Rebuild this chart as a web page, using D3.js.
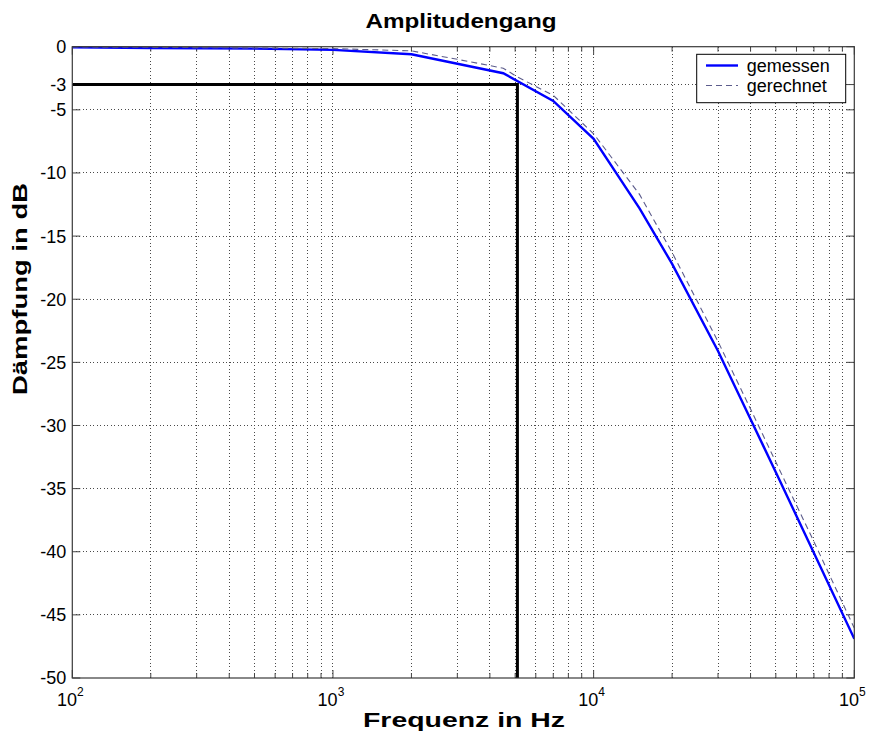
<!DOCTYPE html>
<html>
<head>
<meta charset="utf-8">
<script src="https://cdn.jsdelivr.net/npm/d3@7/dist/d3.min.js"></script>
<style>
html,body{margin:0;padding:0;background:#fff;}
svg{display:block;font-family:"Liberation Sans",Arial,sans-serif;}
</style>
</head>
<body>
<div id="chart"></div>
<script>
// ---- data ----
const freqMeasured = [100, 200, 500, 1000, 2000, 4500, 7000, 10000, 15000, 20000, 30000, 40000, 50000, 70000, 100000];
const dbMeasured   = [-0.05, -0.1, -0.15, -0.25, -0.6, -2.1, -4.3, -7.3, -12.8, -17.2, -24.1, -29.5, -33.7, -40.1, -46.9];
const freqCalc = [100, 200, 500, 1000, 2000, 3000, 4500, 5100, 7000, 10000, 15000, 20000, 30000, 40000, 50000, 70000, 100000];
const dbCalc   = [-0.02, -0.05, -0.1, -0.15, -0.33, -1.0, -1.7, -2.4, -3.85, -6.9, -11.7, -16.3, -23.35, -28.7, -32.9, -39.2, -46.05];
const cutoffFreq = 5100;
const cutoffDb = -3;
const yTicks = [0, -3, -5, -10, -15, -20, -25, -30, -35, -40, -45, -50];
const xDecades = [2, 3, 4, 5];
const seriesNames = ["gemessen", "gerechnet"];
const titleText = "Amplitudengang";
const xLabelText = "Frequenz in Hz";
const yLabelText = "Dämpfung in dB";

// ---- layout ----
const W = 869, H = 734;
const L = 72.3, R = 854.3, T = 46.7, B = 678;

const svg = d3.select("#chart").append("svg").attr("width", W).attr("height", H);

const x = d3.scaleLog().domain([1e2, 1e5]).range([L, R]);
const y = d3.scaleLinear().domain([-50, 0]).range([B, T]);

// minor positions
const minorX = [];
for (let d = 2; d < 5; d++) for (let m = 2; m <= 9; m++) minorX.push(m * Math.pow(10, d));
const majorX = xDecades.map(d => Math.pow(10, d));

const gridColor = "#4a4a4a";
const g = svg.append("g");

// grid
g.selectAll("line.vg").data(minorX.concat(majorX.slice(1, -1))).enter().append("line")
  .attr("x1", d => x(d)).attr("x2", d => x(d)).attr("y1", T).attr("y2", B)
  .attr("stroke", gridColor).attr("stroke-width", 1).attr("stroke-dasharray", "1,2.5")
  .attr("shape-rendering", "crispEdges");
g.selectAll("line.hg").data(yTicks.filter(v => v !== 0 && v !== -50)).enter().append("line")
  .attr("x1", L).attr("x2", R).attr("y1", d => y(d)).attr("y2", d => y(d))
  .attr("stroke", gridColor).attr("stroke-width", 1).attr("stroke-dasharray", "1,2.5")
  .attr("shape-rendering", "crispEdges");

// ticks (inward, all four sides)
const tickColor = "#444";
function tickLines(data, len, horizontal) {
  data.forEach(v => {
    if (horizontal) {
      g.append("line").attr("x1", x(v)).attr("x2", x(v)).attr("y1", B).attr("y2", B - len).attr("stroke", tickColor);
      g.append("line").attr("x1", x(v)).attr("x2", x(v)).attr("y1", T).attr("y2", T + len).attr("stroke", tickColor);
    } else {
      g.append("line").attr("y1", y(v)).attr("y2", y(v)).attr("x1", L).attr("x2", L + len).attr("stroke", tickColor);
      g.append("line").attr("y1", y(v)).attr("y2", y(v)).attr("x1", R).attr("x2", R - len).attr("stroke", tickColor);
    }
  });
}
tickLines(minorX, 5, true);
tickLines(majorX, 8, true);
tickLines(yTicks, 8, false);

// clip
svg.append("clipPath").attr("id", "clip").append("rect").attr("x", L).attr("y", T - 2).attr("width", R - L).attr("height", B - T + 2);

const line = d3.line().x(d => x(d[0])).y(d => y(d[1]));
const plot = svg.append("g").attr("clip-path", "url(#clip)");

plot.append("path").datum(freqMeasured.map((f, i) => [f, dbMeasured[i]]))
  .attr("d", line).attr("fill", "none").attr("stroke", "#0000ff").attr("stroke-width", 2.4);
plot.append("path").datum(freqCalc.map((f, i) => [f, dbCalc[i]]))
  .attr("d", line).attr("fill", "none").attr("stroke", "#5c5c8c").attr("stroke-width", 1.1)
  .attr("stroke-dasharray", "6,4");

// cutoff lines
plot.append("path").datum([[1e2, cutoffDb], [cutoffFreq, cutoffDb], [cutoffFreq, -50]])
  .attr("d", line).attr("fill", "none").attr("stroke", "#000").attr("stroke-width", 3);

// frame
svg.append("rect").attr("x", L).attr("y", T).attr("width", R - L).attr("height", B - T)
  .attr("fill", "none").attr("stroke", "#3a3a3a").attr("stroke-width", 1.2);

// y tick labels
svg.selectAll("text.yt").data(yTicks).enter().append("text")
  .attr("x", L - 6).attr("y", d => y(d)).attr("dy", "0.36em")
  .attr("text-anchor", "end").attr("font-size", 18).attr("fill", "#000")
  .text(d => String(d));

// x tick labels
xDecades.forEach(d => {
  const t = svg.append("text").attr("x", x(Math.pow(10, d)) - 2).attr("y", 705.5)
    .attr("text-anchor", "middle").attr("font-size", 18).attr("fill", "#000");
  t.append("tspan").text("10");
  t.append("tspan").attr("dy", -10).attr("font-size", 12).text(String(d));
});

// title and axis labels
svg.append("text").attr("x", 461).attr("y", 28).attr("text-anchor", "middle")
  .attr("font-size", 21).attr("font-weight", "bold").attr("textLength", 191).attr("lengthAdjust", "spacingAndGlyphs")
  .text(titleText);
svg.append("text").attr("x", 464).attr("y", 727).attr("text-anchor", "middle")
  .attr("font-size", 20).attr("font-weight", "bold").attr("textLength", 202).attr("lengthAdjust", "spacingAndGlyphs")
  .text(xLabelText);
svg.append("text").attr("transform", "translate(27,289) rotate(-90)").attr("text-anchor", "middle")
  .attr("font-size", 20).attr("font-weight", "bold").attr("textLength", 212).attr("lengthAdjust", "spacingAndGlyphs")
  .text(yLabelText);

// legend
const lg = svg.append("g");
lg.append("rect").attr("x", 696.7).attr("y", 54.3).attr("width", 149).attr("height", 48.4)
  .attr("fill", "#fff").attr("stroke", "#000").attr("stroke-width", 1);
const legendStyles = [
  {stroke: "#0000ff", w: 2.4, dash: null},
  {stroke: "#5c5c8c", w: 1.1, dash: "6,4"}
];
seriesNames.forEach((name, i) => {
  const yy = 65.5 + i * 20;
  const ln = lg.append("line").attr("x1", 706).attr("x2", 738).attr("y1", yy).attr("y2", yy)
    .attr("stroke", legendStyles[i].stroke).attr("stroke-width", legendStyles[i].w);
  if (legendStyles[i].dash) ln.attr("stroke-dasharray", legendStyles[i].dash);
  lg.append("text").attr("x", 746.7).attr("y", yy).attr("dy", "0.36em")
    .attr("font-size", 18).attr("fill", "#000").text(name);
});
</script>
</body>
</html>
